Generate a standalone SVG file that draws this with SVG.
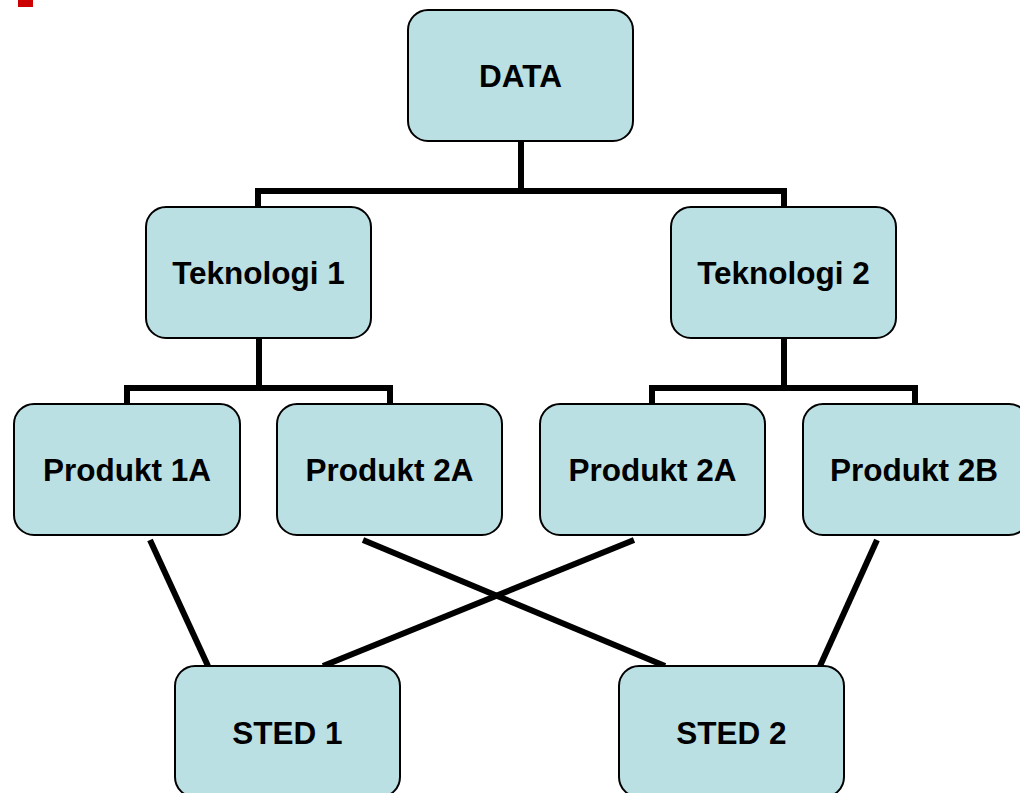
<svg xmlns="http://www.w3.org/2000/svg" width="1020" height="793" viewBox="0 0 1020 793">
<style>
.box{fill:#BBE0E3;stroke:#000;stroke-width:2}
.lbl{font-family:"Liberation Sans",Arial,sans-serif;font-weight:bold;font-size:31.5px;fill:#000;text-anchor:middle}
.con{fill:none;stroke:#000;stroke-width:6}
</style>
<rect width="1020" height="793" fill="#fff"/>
<rect x="18" y="0" width="15" height="7" fill="#CC0000"/>
<g id="connectors">
<polyline class="con" points="521,141 521,191"/>
<polyline class="con" points="258,207 258,191 784,191 784,207"/>
<polyline class="con" points="259,338 259,388"/>
<polyline class="con" points="127,404 127,388 390,388 390,404"/>
<polyline class="con" points="784,338 784,388"/>
<polyline class="con" points="652,404 652,388 915,388 915,404"/>
<line class="con" x1="150" y1="540" x2="208" y2="666"/>
<line class="con" x1="363" y1="540" x2="665" y2="666"/>
<line class="con" x1="634" y1="540" x2="323" y2="666"/>
<line class="con" x1="877" y1="540" x2="820" y2="666"/>
</g>
<g id="n-data"><rect class="box" x="408" y="10" width="225" height="131" rx="20"/><text class="lbl" x="520.5" y="87">DATA</text></g>
<g id="n-tek1"><rect class="box" x="146" y="207" width="225" height="131" rx="20"/><text class="lbl" x="258.5" y="284">Teknologi 1</text></g>
<g id="n-tek2"><rect class="box" x="671" y="207" width="225" height="131" rx="20"/><text class="lbl" x="783.5" y="284">Teknologi 2</text></g>
<g id="n-p1a"><rect class="box" x="14" y="404" width="226" height="131" rx="20"/><text class="lbl" x="127" y="481">Produkt 1A</text></g>
<g id="n-p2a-1"><rect class="box" x="277" y="404" width="225" height="131" rx="20"/><text class="lbl" x="389.5" y="481">Produkt 2A</text></g>
<g id="n-p2a-2"><rect class="box" x="540" y="404" width="225" height="131" rx="20"/><text class="lbl" x="652.5" y="481">Produkt 2A</text></g>
<g id="n-p2b"><rect class="box" x="803" y="404" width="226" height="131" rx="20"/><text class="lbl" x="914" y="481">Produkt 2B</text></g>
<g id="n-sted1"><rect class="box" x="175" y="666" width="225" height="131" rx="20"/><text class="lbl" x="287.5" y="744">STED 1</text></g>
<g id="n-sted2"><rect class="box" x="619" y="666" width="225" height="131" rx="20"/><text class="lbl" x="731.5" y="744">STED 2</text></g>
</svg>
